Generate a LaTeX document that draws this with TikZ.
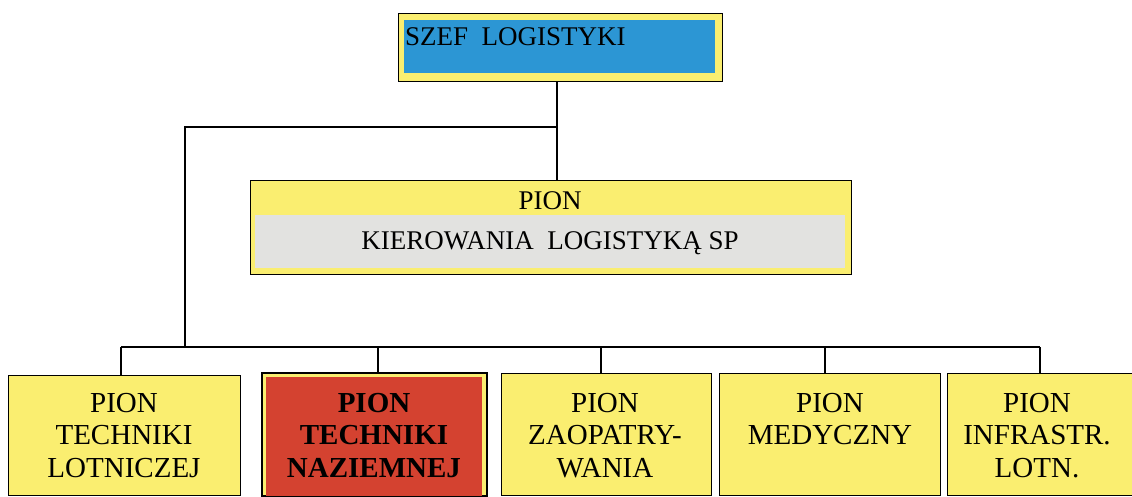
\documentclass[tikz,border=0pt]{standalone}
\usepackage{fontspec}
\setmainfont{Liberation Serif}
\definecolor{boxyellow}{RGB}{250,238,112}
\definecolor{chiefblue}{RGB}{44,150,212}
\definecolor{headred}{RGB}{212,66,48}
\definecolor{panelgray}{RGB}{226,226,224}
\begin{document}
\begin{tikzpicture}[x=1pt,y=-1pt,
  outerbox/.style={draw=black, line width=1.4pt, fill=boxyellow, inner sep=0pt,
    anchor=north west},
  innerbox/.style={inner sep=0pt, anchor=north west},
  label/.style={inner sep=0pt, font=\fontsize{27}{33}\selectfont},
  unitlabel/.style={inner sep=0pt, align=center, anchor=north,
    font=\fontsize{29}{32.5}\selectfont},
  link/.style={draw=black, line width=1.2pt}]
\useasboundingbox (0,0) rectangle (1132,496);
\fill[white] (0,0) rectangle (1132,496);

% chief of logistics
\node[outerbox, minimum width=324pt, minimum height=68pt] (chief) at (398,13) {};
\node[innerbox, fill=chiefblue, minimum width=311pt, minimum height=53pt] (chiefin) at (404,20) {};
\node[label, anchor=base west] (chieftxt) at (405,45) {SZEF\ \ LOGISTYKI};

% logistics command division
\node[outerbox, minimum width=601pt, minimum height=94pt] (cmd) at (250,180) {};
\node[innerbox, fill=panelgray, minimum width=590pt, minimum height=53pt] (cmdin) at (255,215) {};
\node[label, anchor=base] (cmdtxt1) at (550,209) {PION};
\node[label, anchor=base] (cmdtxt2) at (550,249) {KIEROWANIA\ \ LOGISTYKĄ SP};

% subordinate divisions
\node[outerbox, minimum width=232pt, minimum height=120pt] (u1) at (8,375) {};
\node[outerbox, minimum width=224pt, minimum height=122pt] (u2) at (262,373) {};
\node[innerbox, fill=headred, minimum width=216pt, minimum height=124pt] (u2in) at (266,377) {};
\node[outerbox, minimum width=210pt, minimum height=122pt] (u3) at (501,373) {};
\node[outerbox, minimum width=221pt, minimum height=122pt] (u4) at (719,373) {};
\node[outerbox, minimum width=190pt, minimum height=122pt] (u5) at (947,373) {};
\draw[black, line width=1.4pt] (u2.north west) rectangle (u2.south east);

\node[unitlabel] (u1txt) at (124,393) {PION\\TECHNIKI\\LOTNICZEJ};
\node[unitlabel, font=\fontsize{29}{32.5}\selectfont\bfseries] (u2txt) at (374,393) {PION\\TECHNIKI\\NAZIEMNEJ};
\node[unitlabel] (u3txt) at (605,393) {PION\\ZAOPATRY-\\WANIA};
\node[unitlabel] (u4txt) at (830,393) {PION\\MEDYCZNY};
\node[unitlabel] (u5txt) at (1037,393) {PION\\INFRASTR.\\LOTN.};

% connectors
\coordinate (j1) at (557,127);
\coordinate (j2) at (185,347);
\coordinate (d1) at (121,347);
\coordinate (d2) at (378,347);
\coordinate (d3) at (601,347);
\coordinate (d4) at (825,347);
\coordinate (d5) at (1040,347);
\draw[link] (j1 |- chief.south) -- (j1 |- cmd.north);
\draw[link] (j1) -- (j1 -| j2) -- (j2);
\draw[link] (d1) -- (d5);
\draw[link] (d1) -- (d1 |- u1.north);
\draw[link] (d2) -- (d2 |- u2.north);
\draw[link] (d3) -- (d3 |- u3.north);
\draw[link] (d4) -- (d4 |- u4.north);
\draw[link] (d5) -- (d5 |- u5.north);
\end{tikzpicture}
\end{document}
